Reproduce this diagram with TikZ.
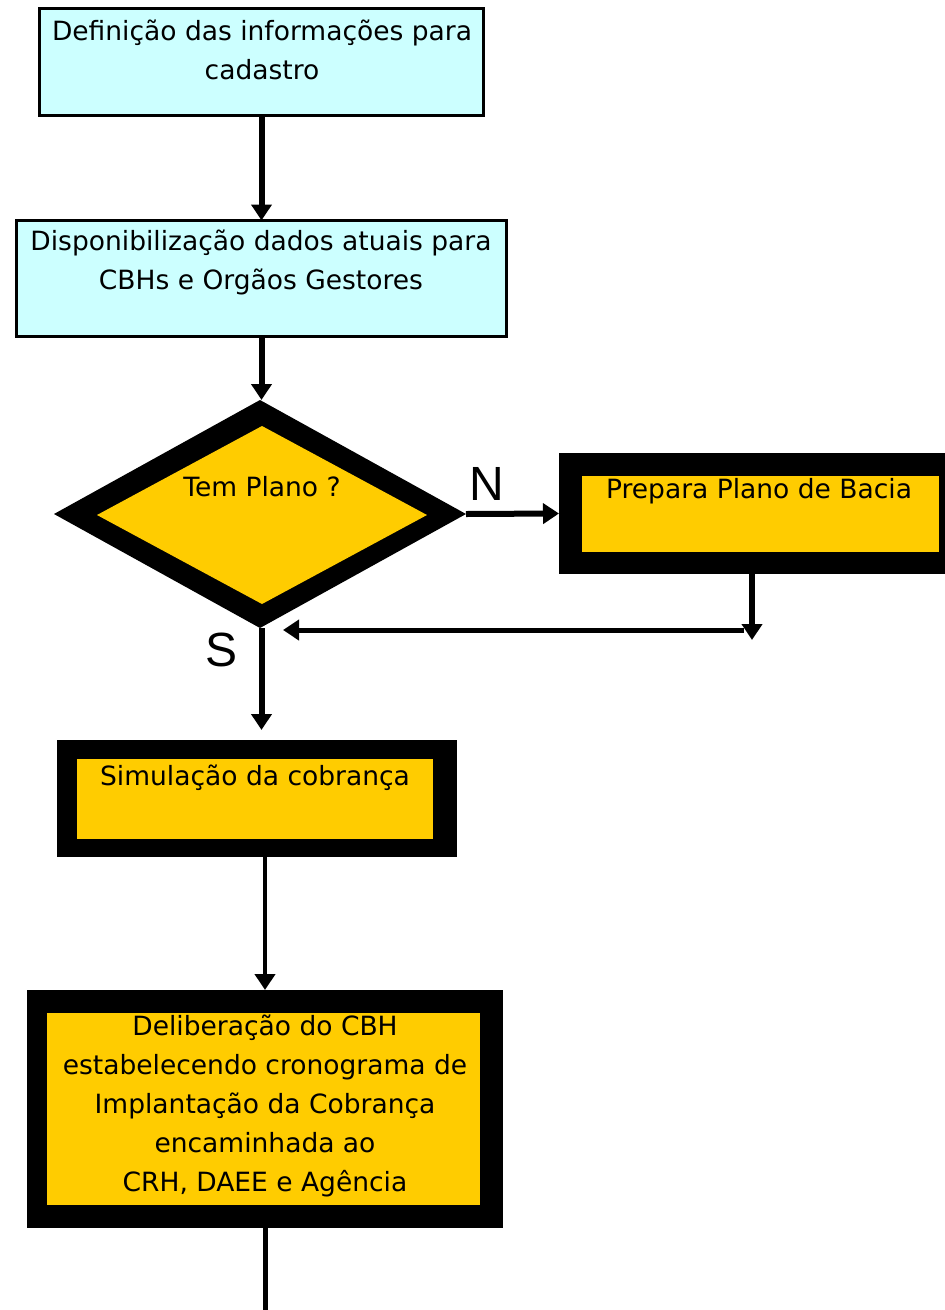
\documentclass[tikz,border=0pt]{standalone}
\usepackage{fontspec}
\setmainfont{DejaVu Sans}
\newfontfamily\labfont{Liberation Sans}
\usetikzlibrary{shapes.geometric,arrows.meta}
\definecolor{cyanbox}{HTML}{CCFFFF}
\definecolor{gold}{HTML}{FFCC00}
\begin{document}
\begin{tikzpicture}[x=1pt,y=-1pt,
  every node/.style={inner sep=0pt, outer sep=0pt},
  cbox/.style={rectangle, draw=black, line width=3pt, fill=cyanbox},
  frame/.style={rectangle, fill=black},
  gbox/.style={rectangle, fill=gold},
  txt/.style={font=\fontsize{26.5}{39}\selectfont, align=center},
  yn/.style={font=\labfont\fontsize{48}{48}\selectfont},
  arr/.style={line width=6pt, -{Triangle[width=20pt,length=16pt]}},
  thinarr/.style={line width=4pt, -{Triangle[width=20pt,length=16pt]}},
]
\useasboundingbox (0,0) rectangle (945,1310);
% boxes
\node[cbox, minimum width=444, minimum height=107] (b1) at (261.5,62) {};
\node[txt] (t1) at (262,50) {Definição das informações para\\cadastro};
\node[cbox, minimum width=490, minimum height=116] (b2) at (261.5,278.5) {};
\node[txt] (t2) at (261,262) {Disponibilização dados atuais para\\CBHs e Orgãos Gestores};
% decision
\node[diamond, fill=black, minimum width=412, minimum height=228] (dia) at (260,514) {};
\node[diamond, fill=gold, minimum width=330, minimum height=178] (diain) at (262,515) {};
\node[txt] (tq) at (262,487) {Tem Plano ?};
% prepara
\node[frame, minimum width=386, minimum height=121] (prep) at (752,513.5) {};
\node[gbox, minimum width=357, minimum height=76] (prepin) at (760.5,514) {};
\node[txt] (tp) at (759,491) {Prepara Plano de Bacia};
% simulacao
\node[frame, minimum width=400, minimum height=117] (sim) at (257,798.5) {};
\node[gbox, minimum width=356, minimum height=80] (simin) at (255,799) {};
\node[txt] (ts) at (255,778) {Simulação da cobrança};
% deliberacao
\node[frame, minimum width=476, minimum height=238] (del) at (265,1109) {};
\node[gbox, minimum width=433, minimum height=192] (delin) at (263.5,1109) {};
\node[txt] (td) at (265,1106) {Deliberação do CBH\\estabelecendo cronograma de\\Implantação da Cobrança\\encaminhada ao\\CRH, DAEE e Agência};
% labels
\node[yn] (N) at (487,484) {N};
\node[yn] (S) at (222,650) {S};
% coordinates
\coordinate (r1) at (752,640);
\coordinate (r2) at (744,630);
\coordinate (ret) at (283,630);
\coordinate (endc) at (265,1310);
% connectors
\draw[arr] (b1.south) -- (b2.north);
\draw[arr] (b2.south) -- (dia.north -| b2.south);
\draw[arr] (dia.east) -- (prep.west);
\draw[arr] (prep.south) -- (r1);
\draw[line width=5pt, -{Triangle[width=20pt,length=16pt]}] (r2) -- (ret);
\draw[arr, shorten >=10pt] (dia.south -| b2.south) -- (sim.north -| b2.south);
\draw[thinarr] (sim.south -| del.north) -- (del.north);
\draw[line width=5pt] (del.south) -- (endc);
\end{tikzpicture}
\end{document}
